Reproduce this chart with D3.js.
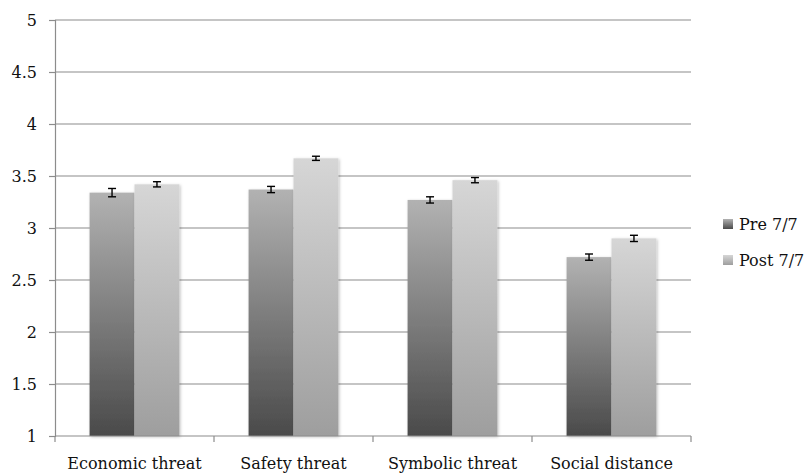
<!DOCTYPE html>
<html>
<head>
<meta charset="utf-8">
<script src="https://cdn.jsdelivr.net/npm/d3@7"></script>
<style>
  body { margin: 0; background: #fff; }
  svg text { font-family: "DejaVu Serif", "Liberation Serif", serif; fill: #111; }
</style>
</head>
<body>
<svg id="chart" width="812" height="474"></svg>
<script>
const categories = ['Economic threat', 'Safety threat', 'Symbolic threat', 'Social distance'];
const seriesNames = ['Pre 7/7', 'Post 7/7'];
const preValues = [3.34, 3.37, 3.27, 2.72];
const postValues = [3.42, 3.67, 3.46, 2.90];
const preErrors = [0.04, 0.03, 0.03, 0.03];
const postErrors = [0.025, 0.02, 0.025, 0.03];
const yTicks = [1, 1.5, 2, 2.5, 3, 3.5, 4, 4.5, 5];

const margin = { top: 20, left: 55, right: 121, bottom: 38 };
const width = 812, height = 474;

const svg = d3.select('#chart');

// gradients for the two series (light at top, dark at bottom)
const defs = svg.append('defs');
const gradColors = [['#b2b2b2', '#4a4a4a'], ['#d6d6d6', '#9e9e9e']];
gradColors.forEach((c, i) => {
    const g = defs.append('linearGradient')
        .attr('id', `grad${i}`)
        .attr('x1', 0).attr('y1', 0).attr('x2', 0).attr('y2', 1);
    g.append('stop').attr('offset', '0%').attr('stop-color', c[0]);
    g.append('stop').attr('offset', '100%').attr('stop-color', c[1]);
});
defs.append('filter').attr('id', 'shadow')
    .attr('x', '-20%').attr('y', '-20%').attr('width', '140%').attr('height', '140%')
    .append('feDropShadow')
    .attr('dx', 1).attr('dy', 1).attr('stdDeviation', 1.5)
    .attr('flood-color', '#000').attr('flood-opacity', 0.25);

const x0 = d3.scaleBand()
    .domain(categories)
    .range([margin.left, width - margin.right])
    .paddingInner(0)
    .paddingOuter(0);

const x1 = d3.scaleBand()
    .domain(seriesNames)
    .range([0, x0.bandwidth()])
    .paddingOuter(0.77)
    .paddingInner(0);

const y = d3.scaleLinear()
    .domain([1, 5])
    .range([height - margin.bottom, margin.top]);

// grid lines
svg.append('g')
    .selectAll('line')
    .data(yTicks.slice(1))
    .join('line')
    .attr('x1', margin.left)
    .attr('x2', width - margin.right)
    .attr('y1', d => y(d))
    .attr('y2', d => y(d))
    .attr('stroke', '#8c8c8c')
    .attr('stroke-width', 1.2);

// y axis
const yAxis = svg.append('g')
    .attr('transform', `translate(${margin.left},0)`)
    .call(d3.axisLeft(y).tickValues(yTicks).tickSize(6).tickPadding(12).tickFormat(d3.format('')));
yAxis.select('.domain').attr('stroke', '#8c8c8c').attr('stroke-width', 1.2);
yAxis.selectAll('.tick line').attr('stroke', '#8c8c8c').attr('stroke-width', 1.2);
yAxis.selectAll('.tick text')
    .style('font-size', '16px')
    .attr('fill', '#111');

const data = categories.map((c, i) => ({
    category: c,
    values: [
        { series: seriesNames[0], value: preValues[i], err: preErrors[i], idx: 0 },
        { series: seriesNames[1], value: postValues[i], err: postErrors[i], idx: 1 }
    ]
}));

// bars
const groups = svg.append('g')
    .selectAll('g')
    .data(data)
    .join('g')
    .attr('transform', d => `translate(${x0(d.category)},0)`);

groups.selectAll('rect')
    .data(d => d.values)
    .join('rect')
    .attr('x', d => x1(d.series))
    .attr('width', x1.bandwidth())
    .attr('y', d => y(d.value))
    .attr('height', d => y(1) - y(d.value))
    .attr('fill', d => `url(#grad${d.idx})`)
    .attr('filter', 'url(#shadow)');

// error bars
const capW = 4;
const eb = groups.selectAll('g.err')
    .data(d => d.values)
    .join('g')
    .attr('class', 'err')
    .attr('stroke', '#000')
    .attr('stroke-width', 1.4);
eb.append('line')
    .attr('x1', d => x1(d.series) + x1.bandwidth() / 2)
    .attr('x2', d => x1(d.series) + x1.bandwidth() / 2)
    .attr('y1', d => y(d.value - d.err))
    .attr('y2', d => y(d.value + d.err));
eb.append('line')
    .attr('x1', d => x1(d.series) + x1.bandwidth() / 2 - capW)
    .attr('x2', d => x1(d.series) + x1.bandwidth() / 2 + capW)
    .attr('y1', d => y(d.value + d.err))
    .attr('y2', d => y(d.value + d.err));
eb.append('line')
    .attr('x1', d => x1(d.series) + x1.bandwidth() / 2 - capW)
    .attr('x2', d => x1(d.series) + x1.bandwidth() / 2 + capW)
    .attr('y1', d => y(d.value - d.err))
    .attr('y2', d => y(d.value - d.err));

// x axis
const xAxisG = svg.append('g')
    .attr('transform', `translate(0,${y(1)})`);
xAxisG.append('line')
    .attr('x1', margin.left).attr('x2', width - margin.right)
    .attr('stroke', '#8c8c8c').attr('stroke-width', 1.2);
const boundaries = categories.map(c => x0(c)).concat([x0(categories[categories.length - 1]) + x0.bandwidth()]);
xAxisG.selectAll('line.tick')
    .data(boundaries)
    .join('line')
    .attr('class', 'tick')
    .attr('x1', d => d).attr('x2', d => d)
    .attr('y1', 0).attr('y2', 6)
    .attr('stroke', '#8c8c8c').attr('stroke-width', 1.2);
xAxisG.selectAll('text')
    .data(categories)
    .join('text')
    .attr('x', d => x0(d) + x0.bandwidth() / 2)
    .attr('y', 33)
    .attr('text-anchor', 'middle')
    .style('font-size', '16px')
    .text(d => d);

// legend
const legend = svg.append('g')
    .attr('transform', 'translate(723,219)');
const li = legend.selectAll('g')
    .data(seriesNames)
    .join('g')
    .attr('transform', (d, i) => `translate(0,${i * 36})`);
li.append('rect')
    .attr('width', 10).attr('height', 10)
    .attr('fill', (d, i) => `url(#grad${i})`);
li.append('text')
    .attr('x', 16).attr('y', 11)
    .style('font-size', '16px')
    .text(d => d);
</script>
</body>
</html>
